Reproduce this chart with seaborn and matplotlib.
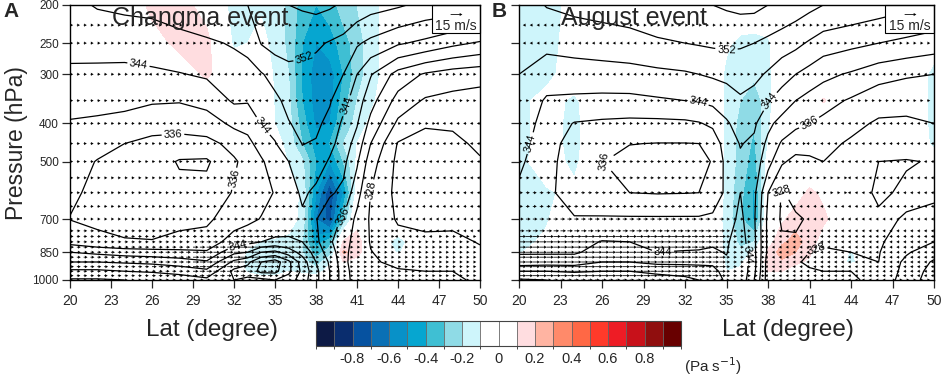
import numpy as np
import matplotlib
matplotlib.use("Agg")
import matplotlib.pyplot as plt
import matplotlib.cm as cm
from matplotlib.colors import ListedColormap, BoundaryNorm
from matplotlib.patches import Rectangle
import seaborn as sns

sns.set_style("ticks")
plt.rcParams['font.family'] = ['Liberation Sans', 'DejaVu Sans']
plt.rcParams['axes.edgecolor'] = 'black'
plt.rcParams['axes.linewidth'] = 1.0

# grid of the fields (rows of the tables below = latitude, columns = pressure level)
lat_grid = [20, 22, 24, 26, 28, 30, 32, 33, 34, 35, 36, 37, 38, 39, 40, 41, 42, 44, 46, 48, 50]
plev = [200, 250, 300, 350, 400, 450, 500, 600, 700, 800, 850, 900, 950, 1000]

# equivalent potential temperature (K), Changma event
theta_a = [
    [347.0, 345.2, 343.3, 341.3, 339.7, 338.6, 337.8, 336.6, 335.9, 338.6, 344.0, 348.0, 352.8, 356.5],
    [348.3, 345.3, 343.2, 341.1, 339.4, 337.4, 335.8, 335.2, 335.2, 337.0, 343.0, 348.0, 352.8, 356.5],
    [348.8, 345.5, 343.0, 341.0, 338.8, 336.0, 335.2, 334.6, 334.7, 336.3, 342.0, 347.5, 352.0, 356.0],
    [349.0, 346.0, 343.3, 340.5, 337.2, 335.2, 334.3, 333.5, 333.5, 336.3, 341.5, 347.0, 351.5, 355.5],
    [349.8, 346.8, 343.8, 340.3, 337.0, 335.0, 331.6, 333.3, 335.0, 337.0, 341.0, 346.0, 350.5, 354.5],
    [350.5, 347.5, 344.5, 341.5, 337.8, 335.0, 331.4, 333.5, 335.3, 337.5, 340.5, 344.5, 349.0, 353.0],
    [351.5, 348.3, 346.5, 344.5, 341.0, 337.0, 335.6, 336.3, 338.0, 342.0, 347.0, 353.0, 357.0, 356.0],
    [352.0, 348.8, 347.0, 344.3, 341.5, 338.8, 337.0, 337.3, 339.0, 343.0, 348.0, 355.0, 358.0, 355.0],
    [354.0, 352.2, 347.7, 345.6, 344.1, 341.8, 339.4, 338.8, 340.2, 344.0, 352.0, 360.0, 361.0, 355.0],
    [355.0, 353.5, 349.3, 347.2, 345.2, 343.8, 342.3, 340.2, 340.5, 345.0, 353.0, 362.0, 361.0, 356.0],
    [356.0, 354.0, 350.5, 349.0, 347.8, 346.0, 344.0, 341.8, 341.0, 345.0, 350.0, 357.0, 357.0, 354.0],
    [356.5, 353.0, 351.0, 349.8, 349.0, 348.1, 347.0, 344.8, 343.2, 344.0, 346.5, 350.0, 351.0, 350.0],
    [357.0, 352.6, 350.5, 349.5, 348.8, 347.7, 346.2, 343.0, 340.2, 341.0, 342.5, 344.0, 345.0, 345.0],
    [356.5, 351.7, 349.8, 348.4, 346.9, 345.3, 343.5, 340.5, 337.5, 336.5, 338.0, 339.5, 340.0, 340.0],
    [355.5, 350.8, 348.0, 345.2, 343.2, 342.0, 341.0, 339.2, 335.5, 334.0, 333.5, 333.5, 334.0, 334.0],
    [354.5, 348.5, 344.0, 342.0, 340.3, 338.5, 336.6, 333.5, 331.0, 330.0, 329.5, 329.0, 329.5, 330.0],
    [353.5, 347.0, 340.3, 337.5, 334.8, 332.0, 329.8, 327.9, 327.5, 327.8, 328.1, 328.3, 328.5, 329.0],
    [352.5, 344.5, 334.5, 330.5, 327.2, 323.7, 323.0, 322.8, 323.5, 325.5, 326.8, 327.5, 328.2, 328.5],
    [351.0, 343.0, 331.5, 327.5, 324.3, 323.0, 322.5, 322.3, 322.8, 325.0, 326.5, 327.3, 328.0, 328.5],
    [350.5, 341.0, 330.0, 326.8, 324.3, 323.5, 323.0, 322.8, 323.2, 324.8, 326.3, 327.2, 328.0, 328.5],
    [350.0, 339.5, 329.3, 326.5, 325.0, 324.4, 323.8, 323.3, 323.4, 323.8, 324.5, 325.2, 326.5, 327.5],
]

# equivalent potential temperature (K), August event
theta_b = [
    [350.0, 349.0, 348.0, 347.0, 346.5, 345.5, 344.7, 343.3, 342.8, 343.0, 343.6, 345.5, 352.0, 356.5],
    [352.2, 349.0, 346.0, 343.5, 342.3, 341.8, 341.5, 341.2, 341.3, 342.3, 343.5, 346.0, 352.0, 356.0],
    [353.0, 349.5, 346.2, 343.2, 339.8, 338.2, 337.6, 337.4, 340.4, 342.5, 343.5, 346.0, 351.5, 355.5],
    [353.5, 350.0, 346.3, 343.0, 339.3, 337.5, 336.1, 336.6, 340.5, 344.2, 345.5, 348.0, 352.0, 355.0],
    [354.0, 350.5, 346.5, 343.0, 339.0, 336.1, 334.8, 336.0, 340.5, 344.0, 345.3, 348.0, 352.0, 355.0],
    [354.5, 351.5, 347.0, 343.5, 339.0, 335.9, 334.3, 335.8, 340.5, 343.2, 344.0, 347.0, 351.0, 354.0],
    [355.0, 352.0, 347.5, 344.0, 339.2, 335.9, 334.6, 335.9, 340.5, 343.0, 344.2, 347.0, 350.5, 353.0],
    [355.5, 352.3, 348.0, 344.3, 339.7, 336.0, 335.0, 336.0, 340.5, 343.0, 344.3, 347.0, 350.0, 352.0],
    [356.0, 352.6, 348.5, 345.0, 340.8, 337.5, 336.2, 337.0, 341.0, 343.5, 344.5, 347.0, 349.5, 351.0],
    [356.5, 352.8, 349.0, 346.0, 343.5, 342.0, 341.2, 341.0, 342.0, 343.5, 343.8, 344.5, 346.0, 347.0],
    [357.0, 352.5, 349.5, 347.5, 345.6, 344.2, 343.4, 344.0, 345.0, 346.0, 346.5, 347.0, 347.5, 347.0],
    [357.0, 352.0, 349.0, 346.5, 344.6, 343.3, 342.3, 341.0, 340.5, 341.0, 341.0, 341.5, 341.0, 340.0],
    [356.0, 351.0, 347.5, 344.2, 341.0, 339.0, 337.5, 332.0, 331.0, 331.0, 331.0, 330.0, 330.0, 330.0],
    [355.0, 350.0, 345.5, 342.3, 338.5, 335.5, 332.5, 327.7, 327.5, 328.5, 328.6, 328.3, 328.5, 329.0],
    [354.0, 349.0, 344.0, 340.0, 337.0, 333.5, 331.0, 329.0, 327.6, 328.3, 328.4, 328.2, 328.4, 329.0],
    [353.0, 347.5, 342.5, 338.5, 336.0, 333.0, 331.5, 329.5, 328.3, 328.5, 328.0, 327.7, 328.2, 329.0],
    [352.0, 346.0, 341.0, 337.5, 335.0, 333.0, 332.0, 330.5, 328.6, 328.2, 327.8, 327.5, 328.0, 329.0],
    [351.0, 345.0, 339.5, 335.5, 333.0, 331.5, 330.5, 329.5, 329.0, 328.5, 328.0, 327.8, 328.0, 328.5],
    [350.0, 344.0, 337.5, 333.5, 331.5, 330.0, 328.0, 327.5, 328.5, 328.5, 328.2, 328.0, 327.6, 327.0],
    [349.0, 343.0, 336.5, 333.0, 331.5, 329.5, 327.8, 328.5, 327.8, 326.0, 324.5, 323.0, 322.5, 322.0],
    [348.0, 342.0, 336.0, 333.5, 332.0, 330.0, 328.2, 328.6, 327.0, 324.0, 321.5, 319.5, 318.5, 318.0],
]

# vertical velocity (0.1 Pa/s), Changma event
omega_a = [
    [0, 0, 0, 0, 0, 0, 0, 0, 0, 0, 0, 0, 0, 0],
    [0, 0, 0, 0, 0, 0, 0, 0, 0, 0, 0, 0, 0, 0],
    [0, 0, 0, 0, 0, 0, 0, 0, 0, 0, 0, 0, 0, 0],
    [1.3, 0.5, 0, 0, 0, 0, 0, 0, 0, 0, 0, 0, 0, 0],
    [1.5, 1.3, 0.3, 0, 0, 0, 0, 0, 0, 0, 0, 0, 0, 0],
    [0.5, 1.4, 1.2, 0, 0, 0, 0, 0, 0, 0, 0, 0, 0, 0],
    [-1.5, -1.2, 0, 0, 0, 0, 0, 0, 0, 0, 0, 0, 0, 0],
    [-1.5, -1.0, 0, 0, 0, 0, 0, 0, 0, -0.5, -1.2, -1.4, -1.2, 0],
    [-1.2, -0.5, 0, 0, 0, 0, 0, 0, 0, -1.1, -1.5, -1.8, -1.5, -0.5],
    [-1.5, -1.5, -1.2, -1.1, -1.0, -0.5, 0, 0, 0, -1.2, -1.6, -1.8, -1.5, -0.5],
    [-2.2, -2.2, -2.0, -1.8, -1.6, -1.4, -1.1, -0.5, -0.5, -1.3, -1.6, -1.3, -1.0, -0.3],
    [-3.5, -4.0, -4.2, -4.0, -3.5, -3.0, -1.8, -1.2, -1.3, -2.0, -2.0, -1.6, -1.2, -0.3],
    [-4.0, -5.0, -5.5, -5.5, -5.2, -4.5, -4.0, -5.0, -6.0, -4.5, -3.5, -2.5, -1.5, -0.3],
    [-3.5, -4.5, -5.5, -5.5, -5.0, -4.0, -5.0, -7.8, -7.5, -3.5, -2.5, -1.2, -0.5, 0],
    [-2.5, -3.5, -4.0, -3.5, -3.0, -2.0, -3.0, -5.0, -3.0, 1.2, 2.2, 1.0, 0.3, 0],
    [-2.0, -2.5, -2.5, -2.0, -1.5, -1.0, -0.8, -0.5, 0.5, 1.5, 1.5, 0.5, 0, 0],
    [-1.5, -1.5, -1.5, -1.2, -0.8, -0.5, 0, 0, 0, 0, 0, 0, 0, 0],
    [0, 0, 0, 0, 0, 0, 0, 0, 0, -1.4, -1.1, 0, 0, 0],
    [0, 0, 0, 0, 0, 0, 0, 0, 0, 0, 0, 0, 0, 0],
    [0, 0, 0, 0, 0, 0, 0, 0, 0, 0, 0, 0, 0, 0],
    [0, 0, 0, 0, 0, 0, 0, 0, 0, 0, 0, 0, 0, 0],
]

# vertical velocity (0.1 Pa/s), August event
omega_b = [
    [-1.4, -1.4, -1.3, -1.3, -1.3, -1.3, -1.2, -1.2, -1.2, -1.3, -1.1, -0.3, 0, 0],
    [-1.5, -1.5, -1.3, -0.6, -0.6, -0.6, -0.6, -1.1, -1.1, -0.8, -0.3, 0, 0, 0],
    [-0.6, -0.4, -0.4, -1.2, -1.3, -1.3, -1.2, -0.8, 0, 0, 0, 0, 0, 0],
    [0, 0, 0, 0, 0, 0, 0, 0, 0, 0, 0, 0, 0, 0],
    [0, 0, 0, 0, 0, 0, 0, 0, 0, 0, 0, 0, 0, 0],
    [0, 0, 0, 0, 0, 0, 0, 0, 0, 0, 0, 0, 0, 0],
    [0, 0, 0, 0, 0, 0, 0, 0, 0, 0, 0, 0, 0, 0],
    [0, 0, 0, 0, 0, 0, 0, 0, 0, 0, 0, 0, 0, 0],
    [0, 0, 0, 0, 0, 0, 0, 0, 0, 0, 0, 0, 0, 0],
    [0, -0.8, -1.3, -1.3, -1.3, -1.3, -1.3, -1.3, -1.5, -1.4, -1.3, -1.2, -1.0, 0],
    [0, -1.3, -1.6, -2.0, -2.3, -2.4, -2.4, -2.7, -2.8, -2.2, -1.8, -1.2, -0.8, 0],
    [0, -1.4, -1.8, -2.6, -2.9, -3.2, -3.5, -4.2, -4.2, -2.0, -0.8, 0, 0, 0],
    [0, -1.2, -1.3, -1.4, -1.2, -1.0, -0.5, 0, 0, 0.5, 1.2, 1.3, 1.0, 0],
    [0, 0, 0, 0, 0, 0, 0, 0, 0.8, 1.8, 2.5, 1.8, 1.0, 0],
    [0, 0, 0, 0, 0, 0, 0, 0.5, 1.5, 2.4, 2.0, 1.2, 0.5, 0],
    [0, 0, 0, 0, 0, 0, 0, 1.2, 1.8, 1.5, 1.2, 0.8, 0, 0],
    [0, 0, 0, 1.1, 0, 0, 0, 0.8, 1.2, 0.5, 0, 0, 0, 0],
    [0, 0, 0, 0, 0, 0, 0, 0, 0, 0, -1.1, -1.2, 0, 0],
    [0, 0, 0, 0, 0, 0, 0, 0, 0, 0, 0, 0, 0, 0],
    [0, 0, 0, 0, 0, 0, 0, 0, 0, 0, 0, 0, 0, 0],
    [0, -0.5, -1.3, -1.3, -1.3, -1.2, -0.5, 0, 0, 0, 0, 0, 0, 0],
]

# meridional wind (m/s) per level, in 3-degree latitude bins 20-23 ... 47-50
wind_lev = [225, 250, 300, 350, 400, 450, 500, 550, 600, 650, 700, 750,
            775, 800, 825, 850, 875, 900, 925, 950, 975, 1000]
wind_a = [
    [4, 4, 4, 4, 4, 4, 4, 4, 4, 4],
    [4, 4, 4, 4, 4, 4, 4, 4, 4, 4],
    [4, 4, -4, -4, -4, 4, 4, 4, 4, 4],
    [4, 4, 4, -4, -4, 4, 4, 4, 4, 4],
    [4, 4, -4, -4, 4, 4, 4, 4, 4, -4],
    [4, 4, 4, 4, 4, 4, 4, 4, -4, -4],
    [4, 4, 4, 4, 4, 4, 4, 4, -4, -4],
    [4, 4, 4, 4, 4, 4.5, 4, 4, -4, -4],
    [4, 4, 4, 4, 4, 4.5, 4, 4, -4, -4],
    [4, 4, 4, 4, 4.5, 5, 4, 4, -4, -4],
    [4, 4, 4, 4, 5, 6, 4, 4, -4, -4],
    [4.5, 4.5, 4.5, 4.5, 6, 7, 4, 4, -4, -4],
    [4.5, 4.5, 4.5, 5, 7, 7, 4, 4, -4, 4],
    [4.5, 4.5, 4.5, 6, 8, 8, 4, 4, 4, 4],
    [5, 5, 5, 7, 9, 8, 4, 4, 4, 4],
    [5, 5, 6, 8, 9, 8, 4, 4, 4, 4],
    [5, 5, 6, 8, 9, 8, 4, 4, 4, 4],
    [5, 5, 6, 8, 9, 7, 4, 4, 4, 4],
    [5, 5, 6, 8, 8, 6, 4, 4, 4, 4],
    [4.5, 4.5, 5, 7, 7, 5, 4, 4, 4, 4],
    [4.5, 4.5, 5, 6, 6, 4.5, 4, 4, 4, 4],
    [4, 4, 4.5, 5, 5, 4, 4, 4, 4, 4],
]
wind_b = [
    [-4, -4, 4, 4, 4, 4, 4, 4, 4, 4],
    [-4, -4, -4, 4, 4, 4, 4, 4, 4, 4],
    [-4, -4, -4, -4, 4, 4, 4, -4, -4, -4],
    [4, -4, -4, 4, 4, 4, 4, -4, 4, 4],
    [4, 4, 4, 4, 4, 4.5, 4, -4, -4, -4],
    [4, 4, 4, 4, 4, 4.5, 4, -4, -4, -4],
    [4.5, 4.5, 4.5, 4.5, 4.5, 4.5, 4, -4, -4, -4],
    [4.5, 4.5, 4.5, 4.5, 4.5, 4.5, 4, 4, -4, -4],
    [5, 5, 5, 5, 5, 4.5, 4, 4, -4, -4],
    [5, 5, 5, 5, 5, 4.5, -4, -4, -4, -4],
    [6, 6, 6, 6, 6, 4.5, -4, -4, -4, -4],
    [7, 7, 7, 7, 7, 4.5, -4, -4, -4, -4],
    [9, 9, 9, 9, 8, 4.5, -4, -4, -4, -4],
    [9, 9, 9, 9, 8, 4.5, -4, -4, -4, -4],
    [9, 9, 9, 9, 8, 4.5, -4, -4, -4, -4],
    [9, 9, 9, 9, 8, 4.5, -4, -4, -4, -4],
    [9, 9, 9, 9, 8, 4.5, -4, -4, -4, -4],
    [9, 9, 9, 9, 8, 4.5, -4, -4, -4, -4],
    [9, 9, 9, 9, 8, 4.5, -4, -4, -4, -4],
    [9, 9, 9, 9, 8, 4.5, -4, -4, -4, -4],
    [9, 9, 9, 9, 8, 4.5, -4, -4, -4, -4],
    [6, 6, 6, 6, 5, 4, -4, -4, -4, 4],
]

shade_colors = ['#0d1a45', '#0a2d6e', '#0652a0', '#0a70b5', '#0891c8', '#06a6d0',
                '#3fbfd3', '#8fdbe6', '#cef5fb', '#ffffff', '#ffffff', '#ffdde0',
                '#ffb4a2', '#ff8a6a', '#ff6845', '#ff3a2a', '#ee1c25', '#c8111a',
                '#900e0e', '#680000']
cbar_ticks = [-0.8, -0.6, -0.4, -0.2, 0, 0.2, 0.4, 0.6, 0.8]
cbar_labels = ['-0.8', '-0.6', '-0.4', '-0.2', '0', '0.2', '0.4', '0.6', '0.8']
lat_ticks = [20, 23, 26, 29, 32, 35, 38, 41, 44, 47, 50]
p_ticks = [200, 250, 300, 400, 500, 700, 850, 1000]
label_levels = [328, 336, 344, 352]
plain_levels = [316, 320, 324, 332, 340, 348, 356, 360, 364]

label_pos_a = [(25.0, 285), (37.0, 267), (40.2, 360), (33.6, 420), (27.5, 410),
               (32.3, 555), (42.0, 590), (40.1, 700), (32.3, 815)]
label_pos_b = [(35.0, 260), (32.9, 360), (21.0, 450), (25.3, 460), (37.9, 345),
               (41.0, 400), (38.8, 580), (41.4, 815), (30.4, 850), (35.8, 870)]

bounds = np.round(np.arange(-1.0, 1.01, 0.1), 1)
cmap = ListedColormap(shade_colors)
cmap.set_under(shade_colors[0])
cmap.set_over(shade_colors[-1])
norm = BoundaryNorm(bounds, cmap.N)

lat = np.array(lat_grid, dtype=float)
p = np.array(plev, dtype=float)
arrow_lat = np.arange(20, 50.01, 0.5)
bin_idx = np.minimum(((arrow_lat - 20) // 3).astype(int), 9)
AX, AY = np.meshgrid(arrow_lat, np.array(wind_lev, dtype=float))

fig = plt.figure(figsize=(9.41, 3.79), dpi=100)
ax_a = fig.add_axes([70 / 941, 1 - 280 / 379, 410 / 941, 275 / 379])
ax_b = fig.add_axes([519 / 941, 1 - 280 / 379, 415 / 941, 275 / 379])

panels = [
    (ax_a, theta_a, omega_a, wind_a, label_pos_a, 'Changma event'),
    (ax_b, theta_b, omega_b, wind_b, label_pos_b, 'August event'),
]

for ax, theta, omega, wind, lpos, title in panels:
    ax.set_yscale('log')
    ax.set_xlim(20, 50)
    ax.set_ylim(1000, 200)
    ax.set_xticks(lat_ticks)
    ax.set_xticklabels([str(t) for t in lat_ticks], fontsize=10)
    ax.set_yticks(p_ticks)
    ax.yaxis.set_minor_locator(matplotlib.ticker.NullLocator())
    ax.tick_params(axis='x', direction='out', length=6, width=0.9, pad=4)
    ax.tick_params(axis='y', direction='out', length=6, width=0.9, pad=2)
    for s in ax.spines.values():
        s.set_linewidth(1.0)
        s.set_zorder(6)

    th = np.array(theta).T
    om = np.array(omega).T / 10.0
    ax.contourf(lat, p, om, levels=bounds, cmap=cmap, norm=norm, extend='both', zorder=1)
    ax.contour(lat, p, th, levels=plain_levels, colors='black',
               linewidths=0.9, linestyles='solid', zorder=2)
    cs = ax.contour(lat, p, th, levels=label_levels, colors='black',
                    linewidths=0.9, linestyles='solid', zorder=2)
    ax.clabel(cs, manual=lpos, fmt='%d', fontsize=8, inline=True, inline_spacing=2)

    V = np.array(wind, dtype=float)[:, bin_idx]
    q = ax.quiver(AX, AY, V, np.zeros_like(V), units='dots', width=0.8,
                  scale=1.28, scale_units='dots', headwidth=4, headlength=3.5,
                  headaxislength=3.2, minlength=0.5, color='black', zorder=3)

    ax.text(0.102, 0.953, title, transform=ax.transAxes, fontsize=18,
            ha='left', va='center', zorder=7)

    box_x0 = 1 - 48 / 410
    ax.add_patch(Rectangle((box_x0, 0.898), 1 - box_x0, 0.102, transform=ax.transAxes,
                           facecolor='white', edgecolor='black', linewidth=0.8,
                           zorder=5, clip_on=False))
    qk = ax.quiverkey(q, (box_x0 + 1) / 2, 0.968, 15, '15 m/s', labelpos='S',
                      coordinates='axes', labelsep=0.05, fontproperties={'size': 10})
    qk.set_zorder(6)

ax_a.set_yticklabels([str(t) for t in p_ticks], fontsize=8.5)
ax_b.set_yticklabels([])

fig.text(3 / 941, 1 - 2 / 379, 'A', fontsize=15, fontweight='bold', ha='left', va='top')
fig.text(492 / 941, 1 - 2 / 379, 'B', fontsize=15, fontweight='bold', ha='left', va='top')
fig.text(17 / 941, 1 - 143 / 379, 'Pressure (hPa)', rotation=90, fontsize=16.5,
         ha='center', va='center')
fig.text(212 / 941, 1 - 330 / 379, 'Lat (degree)', fontsize=17.5, ha='center', va='center')
fig.text(788 / 941, 1 - 330 / 379, 'Lat (degree)', fontsize=17.5, ha='center', va='center')

cax = fig.add_axes([316 / 941, 1 - 346 / 379, 365 / 941, 25 / 379])
sm = cm.ScalarMappable(norm=norm, cmap=cmap)
cb = fig.colorbar(sm, cax=cax, orientation='horizontal', ticks=cbar_ticks, drawedges=True)
cb.ax.set_xticklabels(cbar_labels)
cb.ax.tick_params(length=0, labelsize=10.5, pad=4)
cb.outline.set_linewidth(0.8)
cb.outline.set_edgecolor('#444444')
cb.dividers.set_color('#666666')
cb.dividers.set_linewidth(0.6)
fig.text(713 / 941, 1 - 366 / 379, '(Pa s$^{-1}$)', fontsize=11, ha='center', va='center')

fig.savefig('out.png', dpi=100)
